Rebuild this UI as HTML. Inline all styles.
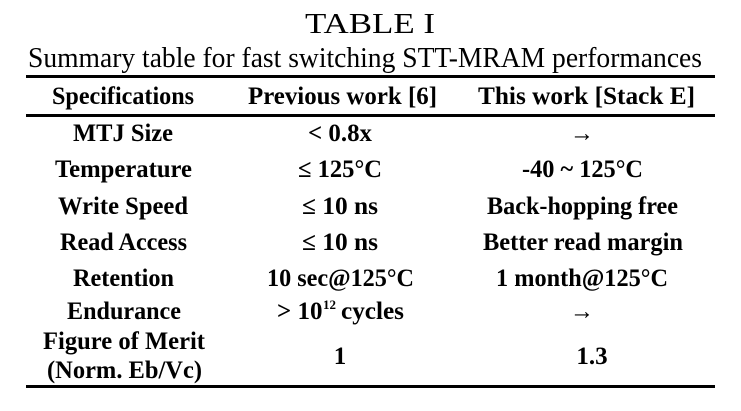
<!DOCTYPE html>
<html><head><style>body{margin:0;background:#fff}svg{display:block}</style></head>
<body>
<svg width="741" height="411" xmlns="http://www.w3.org/2000/svg" font-family="Liberation Serif, serif" fill="#000">
<text x="370" y="33" font-size="29" text-anchor="middle" textLength="130" lengthAdjust="spacingAndGlyphs">TABLE I</text>
<text x="365" y="67" font-size="29" text-anchor="middle" textLength="674" lengthAdjust="spacingAndGlyphs">Summary table for fast switching STT-MRAM performances</text>
<rect x="26" y="75" width="689" height="3"/>
<rect x="26" y="114" width="689" height="3"/>
<rect x="26" y="385" width="689" height="3"/>
<g font-size="25" font-weight="bold">
<text x="52" y="104" textLength="142" lengthAdjust="spacingAndGlyphs">Specifications</text>
<text x="248" y="104" textLength="189" lengthAdjust="spacingAndGlyphs">Previous work [6]</text>
<text x="478" y="104" textLength="217" lengthAdjust="spacingAndGlyphs">This work [Stack E]</text>

<text x="73" y="141" textLength="100" lengthAdjust="spacingAndGlyphs">MTJ Size</text>
<text x="308" y="141" textLength="64" lengthAdjust="spacingAndGlyphs">&lt; 0.8x</text>
<text x="570" y="141" textLength="24" lengthAdjust="spacingAndGlyphs" font-weight="normal">→</text>

<text x="55" y="177" textLength="137" lengthAdjust="spacingAndGlyphs">Temperature</text>
<text x="298" y="177" textLength="84" lengthAdjust="spacingAndGlyphs">≤ 125°C</text>
<text x="522" y="177" textLength="121" lengthAdjust="spacingAndGlyphs">-40 ~ 125°C</text>

<text x="58" y="214" textLength="130" lengthAdjust="spacingAndGlyphs">Write Speed</text>
<text x="302" y="214" textLength="76" lengthAdjust="spacingAndGlyphs">≤ 10 ns</text>
<text x="487" y="214" textLength="191" lengthAdjust="spacingAndGlyphs">Back-hopping free</text>

<text x="60" y="250" textLength="127" lengthAdjust="spacingAndGlyphs">Read Access</text>
<text x="302" y="250" textLength="76" lengthAdjust="spacingAndGlyphs">≤ 10 ns</text>
<text x="483" y="250" textLength="200" lengthAdjust="spacingAndGlyphs">Better read margin</text>

<text x="73" y="286" textLength="101" lengthAdjust="spacingAndGlyphs">Retention</text>
<text x="267" y="286" textLength="147" lengthAdjust="spacingAndGlyphs">10 sec@125°C</text>
<text x="496" y="286" textLength="172" lengthAdjust="spacingAndGlyphs">1 month@125°C</text>

<text x="67" y="319" textLength="114" lengthAdjust="spacingAndGlyphs">Endurance</text>
<text x="277" y="319">&gt; 10</text>
<text x="323" y="309" font-size="13">12</text>
<text x="341" y="319" textLength="63" lengthAdjust="spacingAndGlyphs">cycles</text>
<text x="570" y="319" textLength="24" lengthAdjust="spacingAndGlyphs" font-weight="normal">→</text>

<text x="43" y="349" textLength="162" lengthAdjust="spacingAndGlyphs">Figure of Merit</text>
<text x="47" y="378" textLength="155" lengthAdjust="spacingAndGlyphs">(Norm. Eb/Vc)</text>
<text x="340" y="364" text-anchor="middle">1</text>
<text x="592" y="364" text-anchor="middle">1.3</text>
</g>
</svg>
</body></html>
